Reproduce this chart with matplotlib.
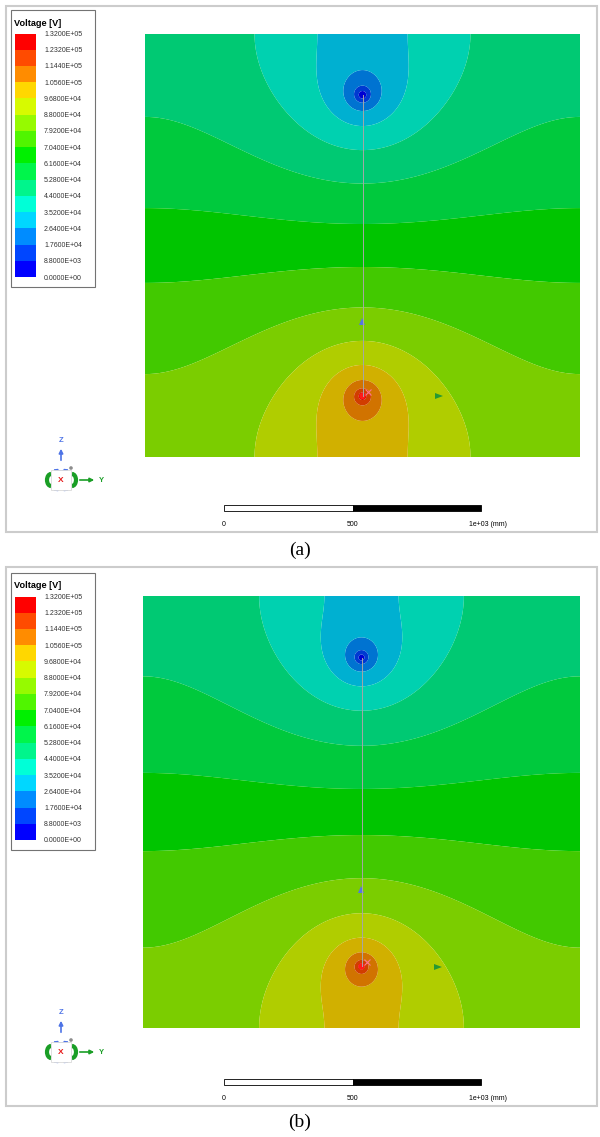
import numpy as np
import matplotlib
matplotlib.use("Agg")
import matplotlib.pyplot as plt
from matplotlib.patches import Rectangle, Polygon, Circle, Arc

# ---------------- data ----------------
legend_values = [0, 8800, 17600, 26400, 35200, 44000, 52800, 61600, 70400,
                 79200, 88000, 96800, 105600, 114400, 123200, 132000]
legend_colors = [(0, 0, 255), (0, 70, 255), (0, 140, 255), (0, 215, 255),
                 (0, 255, 215), (0, 245, 140), (0, 245, 75), (0, 240, 0),
                 (80, 245, 0), (150, 250, 0), (215, 250, 0), (255, 215, 0),
                 (255, 140, 0), (255, 75, 0), (255, 0, 0)]
legend_title = "Voltage [V]"
panel_labels = ["(a)", "(b)"]
scale_labels = ["0", "500", "1e+03 (mm)"]
scale_length_mm = 1000

# field model per panel (mm): domain width, domain height, half electrode gap,
# distance of the 70.4 kV contour from the midline on the axis
domain_width_mm = [1700, 1707]
domain_height_mm = [1652, 1687]
half_gap_mm = [588, 603]
axis_contour_mm = [84, 90]
low_electrode_v = 0
high_electrode_v = 132000

# ---------------- helpers ----------------
FIG_W, FIG_H = 600, 1137
shade = 0.82


def rgb(c, f=1.0):
    return tuple(min(1.0, v * f / 255.0) for v in c)


plot_colors = [rgb(c, shade) for c in legend_colors]


def lcc(a, b):
    a = np.abs(a)
    return a + np.log(np.maximum(0.5 * (1 + np.exp(-2 * a)) - np.cos(b) * np.exp(-a), 1e-14))


def row_pot(x, s, sc, W):
    return -0.5 * lcc(2 * np.pi * (s - sc) / W, 2 * np.pi * x / W)


def dipole(x, s, W, H, d, M=8):
    phi = np.zeros(np.broadcast(x, s).shape)
    for m in range(-M, M + 1):
        for sc in (d + 2 * H * m, H - d + 2 * H * m):
            phi = phi + row_pot(x, s, sc, W) - row_pot(x, s, -sc, W)
    return phi


def field(x, s, W, H, d, s_target):
    e = 1e-3 * H
    g = (dipole(0.0, H / 2 + e, W, H, d) - dipole(0.0, H / 2 - e, W, H, d)) / (2 * e)
    phi = dipole(x, s, W, H, d) - g * s
    phi_t = dipole(0.0, s_target, W, H, d) - g * s_target
    mid = 0.5 * (low_electrode_v + high_electrode_v)
    A = (legend_values[8] - mid) / phi_t
    V = mid + A * phi
    return np.clip(V, low_electrode_v + 1, high_electrode_v - 1)


fig = plt.figure(figsize=(FIG_W / 100, FIG_H / 100), dpi=100)
fig.patch.set_facecolor("white")
ov = fig.add_axes([0, 0, 1, 1])
ov.set_xlim(0, FIG_W)
ov.set_ylim(FIG_H, 0)
ov.axis("off")

panels = [
    dict(frame=(6, 6, 597, 532), leg=(11, 10, 95, 287), plot=(145, 34, 580, 457),
         bar_y=505, lab_y=524, triad=(61, 480), label_y=550, tri_b=(362, 322), tri_g=(438, 396)),
    dict(frame=(6, 567, 597, 1106), leg=(11, 573, 95, 850), plot=(143, 596, 580, 1028),
         bar_y=1079, lab_y=1098, triad=(61, 1052), label_y=1122, tri_b=(361, 890), tri_g=(437, 967)),
]

sans = ["Liberation Sans", "DejaVu Sans"]

for i, p in enumerate(panels):
    fx0, fy0, fx1, fy1 = p["frame"]
    ov.add_patch(Rectangle((fx0, fy0), fx1 - fx0, fy1 - fy0, fill=False,
                           ec=(0.80, 0.80, 0.80), lw=1.5))
    # legend
    lx0, ly0, lx1, ly1 = p["leg"]
    ov.add_patch(Rectangle((lx0, ly0), lx1 - lx0, ly1 - ly0, fill=False,
                           ec=(0.45, 0.45, 0.45), lw=0.8))
    ov.text(lx0 + 3, ly0 + 13, legend_title, fontsize=6.6, fontweight="bold",
            family=sans, va="center", ha="left")
    top = ly0 + 23.5
    bh = (ly1 - 10 - top) / len(legend_colors)
    for k, c in enumerate(reversed(legend_colors)):
        ov.add_patch(Rectangle((lx0 + 4, top + k * bh), 21, bh, fc=rgb(c), ec="none"))
    for k, v in enumerate(reversed(legend_values)):
        ov.text(lx0 + 33, top + k * bh + 1, f"{v:.4E}", fontsize=5.0, family=sans,
                va="center", ha="left", color=(0.2, 0.2, 0.2))

    # contour plot
    px0, py0, px1, py1 = p["plot"]
    ax = fig.add_axes([px0 / FIG_W, 1 - py1 / FIG_H, (px1 - px0) / FIG_W, (py1 - py0) / FIG_H])
    ax.set_xlim(px0, px1)
    ax.set_ylim(py1, py0)
    ax.axis("off")
    W = domain_width_mm[i]
    H = domain_height_mm[i]
    d = half_gap_mm[i]
    xs = np.linspace(px0, px1, 700)
    ys = np.linspace(py0, py1, 700)
    X, Y = np.meshgrid(xs, ys)
    xc = 0.5 * (px0 + px1)
    yc = 0.5 * (py0 + py1)
    xm = (X - xc) * W / (px1 - px0)
    sm = (Y - yc) * H / (py1 - py0)
    V = field(xm, sm, W, H, d, axis_contour_mm[i])
    ax.contourf(X, Y, V, levels=legend_values, colors=plot_colors, antialiased=True)
    e_top = yc - d * (py1 - py0) / H
    e_bot = yc + d * (py1 - py0) / H
    ax.plot([xc, xc], [e_top, e_bot], color=(0.65, 0.65, 0.65), lw=0.7)
    bx, by = p["tri_b"]
    ax.add_patch(Polygon([(bx - 3, by + 3), (bx + 3, by + 3), (bx, by - 4)],
                         closed=True, fc=(0.33, 0.47, 0.88), ec="none"))
    gx, gy = p["tri_g"]
    ax.add_patch(Polygon([(gx - 3, gy - 3), (gx - 3, gy + 3), (gx + 5, gy)],
                         closed=True, fc=(0.15, 0.6, 0.2), ec="none"))
    ax.add_patch(Circle((xc, e_bot), 3.2, fc=(1.0, 0.1, 0.1), ec="none"))
    ax.plot([xc + 5], [e_bot - 4], marker="x", ms=4, mew=0.8, color=(1.0, 0.45, 0.55))

    # scale bar
    b0 = 224
    bw = 257 * scale_length_mm / 1000
    ov.add_patch(Rectangle((b0, p["bar_y"]), bw / 2, 6, fc="white", ec="black", lw=0.6))
    ov.add_patch(Rectangle((b0 + bw / 2, p["bar_y"]), bw / 2, 6, fc="black", ec="black", lw=0.6))
    ov.text(b0, p["lab_y"], scale_labels[0], fontsize=5.0, family=sans, ha="center", va="center")
    ov.text(b0 + bw / 2, p["lab_y"], scale_labels[1], fontsize=5.0, family=sans, ha="center", va="center")
    ov.text(b0 + bw - 12, p["lab_y"], scale_labels[2], fontsize=5.0, family=sans, ha="left", va="center")

    # triad
    tx, ty = p["triad"]
    blue = (0.30, 0.45, 0.90)
    green = (0.10, 0.62, 0.15)
    ov.annotate("", xy=(tx, ty - 34), xytext=(tx, ty - 17),
                arrowprops=dict(arrowstyle="-|>", color=blue, lw=1.2, mutation_scale=6))
    ov.text(tx, ty - 39, "Z", color=blue, fontsize=5.5, fontweight="bold", family=sans,
            ha="center", va="center")
    ov.annotate("", xy=(tx + 36, ty), xytext=(tx + 16, ty),
                arrowprops=dict(arrowstyle="-|>", color=green, lw=1.2, mutation_scale=6))
    ov.text(tx + 40, ty, "Y", color=green, fontsize=5.5, fontweight="bold", family=sans,
            ha="center", va="center")
    ov.add_patch(Arc((tx - 10, ty), 8, 12, theta1=90, theta2=270, color=green, lw=3))
    ov.add_patch(Arc((tx + 11, ty), 8, 12, theta1=-90, theta2=90, color=green, lw=3))
    ov.add_patch(Arc((tx, ty - 11), 10, 7, theta1=0, theta2=180, color=blue, lw=3))
    ov.add_patch(Arc((tx, ty + 11), 10, 7, theta1=180, theta2=360, color=blue, lw=3))
    ov.add_patch(Rectangle((tx - 10, ty - 10), 20, 20, fc="white", ec=(0.85, 0.85, 0.85), lw=0.6))
    ov.text(tx, ty, "X", color=(0.9, 0.1, 0.1), fontsize=6, fontweight="bold", family=sans,
            ha="center", va="center")
    ov.add_patch(Circle((tx + 10, ty - 12), 1.8, fc=(0.55, 0.55, 0.55), ec="none"))

    ov.text(300, p["label_y"], panel_labels[i], fontsize=14,
            family=["Liberation Serif", "DejaVu Serif"], ha="center", va="center")

fig.savefig("out.png", dpi=100, facecolor="white")
